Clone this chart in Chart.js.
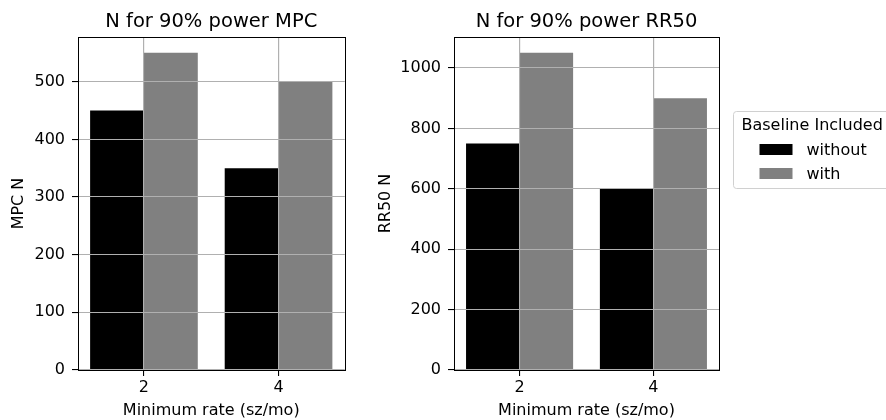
<!DOCTYPE html>
<html>
<head>
<meta charset="utf-8">
<script src="https://cdn.jsdelivr.net/npm/chart.js@4"></script>
<style>
  html, body { margin: 0; padding: 0; background: #fff; }
  .panel { position: absolute; top: 0; height: 420px; }
  #left { left: 0; width: 360px; }
  #right { left: 360px; width: 526px; }
</style>
</head>
<body>
<div class="panel" id="left"><canvas id="mpcChart"></canvas></div>
<div class="panel" id="right"><canvas id="rr50Chart"></canvas></div>
<script>
// data
const rates = [2, 4];
const seriesNames = ['without', 'with'];
const seriesColors = ['#000000', '#808080'];
const mpcWithout = [450, 350];
const mpcWith = [550, 500];
const rr50Without = [750, 600];
const rr50With = [1050, 900];
const mpcTicks = [0, 100, 200, 300, 400, 500];
const rr50Ticks = [0, 200, 400, 600, 800, 1000];
const legendTitle = 'Baseline Included';

const FONT = "'DejaVu Sans', sans-serif";
Chart.defaults.font.family = FONT;
Chart.defaults.color = '#000';

// grid lines sit above the bars, like matplotlib's default here
const gridOnTop = {
    id: 'gridOnTop',
    afterDatasetsDraw(chart) {
        chart.scales.x.drawGrid(chart.chartArea);
        chart.scales.y.drawGrid(chart.chartArea);
    }
};

const frame = {
    id: 'frame',
    afterDraw(chart) {
        const { left, top, right, bottom } = chart.chartArea;
        const ctx = chart.ctx;
        ctx.save();
        ctx.strokeStyle = '#000';
        ctx.lineWidth = 1;
        ctx.strokeRect(Math.round(left) + 0.5, Math.round(top) + 0.5,
            Math.round(right - left), Math.round(bottom - top));
        ctx.restore();
    }
};

const boxLegend = {
    id: 'boxLegend',
    afterDraw(chart) {
        const ctx = chart.ctx;
        ctx.save();
        ctx.fillStyle = 'rgba(255,255,255,0.8)';
        ctx.strokeStyle = '#d0d0d0';
        ctx.lineWidth = 1;
        ctx.beginPath();
        ctx.roundRect(373.5, 111.5, 200, 77, 3);
        ctx.fill();
        ctx.stroke();
        ctx.font = '16px ' + FONT;
        ctx.textBaseline = 'middle';
        ctx.fillStyle = '#000';
        ctx.fillText(legendTitle, 381.5, 126);
        chart.data.datasets.forEach((ds, i) => {
            const cy = 149.5 + i * 24;
            ctx.fillStyle = ds.backgroundColor;
            ctx.fillRect(399.5, cy - 5.5, 33, 11);
            ctx.fillStyle = '#000';
            ctx.fillText(ds.label, 446.5, cy + 1);
        });
        ctx.restore();
    }
};

function makeChart(id, title, yLabel, withoutVals, withVals, yTicks, area, extraPlugins) {
    const yMax = Math.max(...withoutVals, ...withVals) * 1.05;
    return new Chart(document.getElementById(id), {
        type: 'bar',
        data: {
            datasets: [
                { label: seriesNames[0], data: rates.map((r, i) => ({ x: r, y: withoutVals[i] })), backgroundColor: seriesColors[0] },
                { label: seriesNames[1], data: rates.map((r, i) => ({ x: r, y: withVals[i] })), backgroundColor: seriesColors[1] }
            ]
        },
        options: {
            responsive: true,
            maintainAspectRatio: false,
            animation: false,
            categoryPercentage: 0.8,
            barPercentage: 1.0,
            layout: { padding: { left: 0, top: 0, bottom: 0, right: area.padRight } },
            plugins: {
                legend: { display: false },
                tooltip: { enabled: false },
                title: {
                    display: true,
                    text: title,
                    fullSize: false,
                    font: { size: 19.5, weight: 'normal' },
                    color: '#000',
                    padding: { top: 9.8, bottom: 3.8 }
                }
            },
            scales: {
                x: {
                    type: 'linear',
                    offset: false,
                    min: 1.02,
                    max: 4.98,
                    afterBuildTicks: s => { s.ticks = rates.map(v => ({ value: v })); },
                    afterFit: s => { s.height = 50; },
                    grid: { offset: false, color: '#b0b0b0', lineWidth: 1.1, tickLength: 6, tickColor: '#000', tickWidth: 1 },
                    border: { display: false },
                    ticks: { font: { size: 16 }, padding: 2, color: '#000', callback: v => String(v) },
                    title: { display: true, text: 'Minimum rate (sz/mo)', font: { size: 16 }, padding: 0, color: '#000' }
                },
                y: {
                    min: 0,
                    max: yMax,
                    afterBuildTicks: s => { s.ticks = yTicks.map(v => ({ value: v })); },
                    afterFit: s => { s.width = area.left; },
                    grid: { color: '#b0b0b0', lineWidth: 1.1, tickLength: 6, tickColor: '#000', tickWidth: 1 },
                    border: { display: false },
                    ticks: { font: { size: 16 }, padding: 7, color: '#000', callback: v => String(v) },
                    title: { display: true, text: yLabel, font: { size: 16 }, padding: { top: area.titlePad, bottom: 0 }, color: '#000' }
                }
            }
        },
        plugins: [gridOnTop, frame].concat(extraPlugins || [])
    });
}

makeChart('mpcChart', 'N for 90% power MPC', 'MPC N', mpcWithout, mpcWith, mpcTicks,
    { left: 78, padRight: 15.5, titlePad: 9.7 });
makeChart('rr50Chart', 'N for 90% power RR50', 'RR50 N', rr50Without, rr50With, rr50Ticks,
    { left: 94, padRight: 167, titlePad: 16 }, [boxLegend]);
</script>
</body>
</html>
